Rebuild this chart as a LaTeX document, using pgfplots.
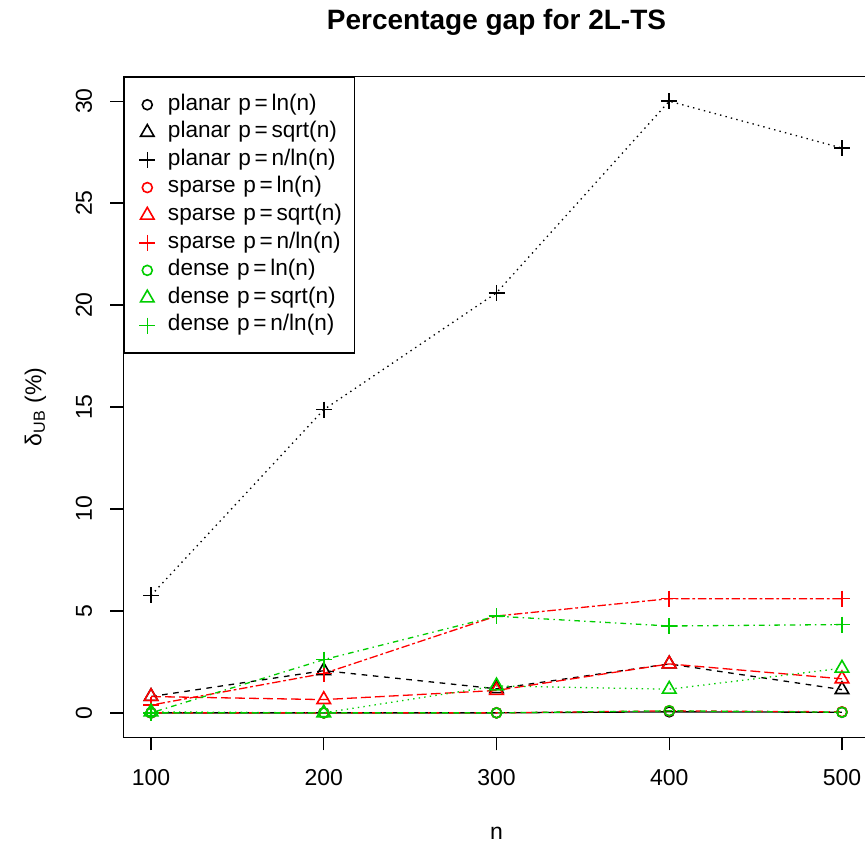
\documentclass[border=0pt]{standalone}
\usepackage{fontspec}
\setmainfont{Liberation Sans}
\usepackage{pgfplots}
\pgfplotsset{compat=1.18}
\definecolor{rgreen}{RGB}{0,205,0}
\definecolor{rred}{RGB}{255,0,0}
\tikzset{
  ltydashed/.style={dash pattern=on 2.8pt off 2.8pt},
  ltydotted/.style={dash pattern=on 0.7pt off 2.1pt},
  ltydotdash/.style={dash pattern=on 0.7pt off 2.1pt on 2.8pt off 2.1pt},
  ltylongdash/.style={dash pattern=on 4.9pt off 2.1pt},
  ltytwodash/.style={dash pattern=on 1.4pt off 1.4pt on 4.2pt off 1.4pt},
}
\newcommand{\eq}{\,=\,}
\begin{document}
\begin{tikzpicture}
\begin{axis}[
  at={(61.7pt,-368.65pt)}, anchor=south west,
  scale only axis, width=373.1pt, height=330.3pt,
  xmin=84, xmax=516, ymin=-1.2, ymax=31.2,
  axis line style={line width=0.65pt},
  xtick={100,200,300,400,500}, ytick={0,5,10,15,20,25,30},
  xtick pos=bottom, ytick pos=left,
  tick align=outside, major tick length=6.5pt,
  tick style={black, line width=0.65pt},
  /pgf/number format/assume math mode=true,
  /pgf/number format/1000 sep={},
  tick label style={font=\fontsize{11.5}{13}\selectfont},
  xticklabel style={anchor=north, inner sep=0pt},
  yticklabel style={rotate=90, anchor=south, inner sep=0pt},
  xticklabel shift=9.5pt, yticklabel shift=9pt,
  every axis title shift=0pt,
  title={\textbf{Percentage gap for 2L-TS}},
  title style={at={(axis description cs:0.5,1.083)}, anchor=center, font=\fontsize{14}{16}\selectfont, inner sep=0pt},
  xlabel={n},
  xlabel style={at={(axis description cs:0.5,-0.145)}, anchor=center, font=\fontsize{11.5}{13}\selectfont, inner sep=0pt},
  ylabel={δ\textsubscript{UB} (\%)},
  ylabel style={at={(axis description cs:-0.118,0.5)}, anchor=center, font=\fontsize{11.5}{13}\selectfont, inner sep=0pt},
  legend style={at={(axis description cs:0,1)}, anchor=north west,
    draw=black, line width=0.65pt, inner xsep=0pt, inner ysep=6.8pt,
    column sep=0pt, row sep=0pt,
    font=\fontsize{11.3}{13}\selectfont,
    nodes={inner sep=0pt, text height=9.6pt, text depth=4.2pt, text width=93.2pt}},
  legend cell align=left,
  legend image code/.code={\path (-11.3pt,0pt) (10pt,0pt);\draw[#1, solid] plot[only marks] coordinates {(0pt,0pt)};},
  every axis plot/.append style={line width=0.65pt, mark options={solid, line width=0.8pt}},
]
% planar
\addplot[black, solid, mark=o, mark size=2.5pt] coordinates {(100,0) (200,0) (300,0) (400,0.05) (500,0.03)};
\addlegendentry{planar p\eq ln(n)}
\addplot[black, ltydashed, mark=triangle, mark size=3.9pt] coordinates {(100,0.8) (200,2.07) (300,1.18) (400,2.4) (500,1.14)};
\addlegendentry{planar p\eq sqrt(n)}
\addplot[black, ltydotted, mark=+, mark size=4pt] coordinates {(100,5.76) (200,14.87) (300,20.6) (400,30.0) (500,27.7)};
\addlegendentry{planar p\eq n/ln(n)}
% sparse
\addplot[rred, ltydotdash, mark=o, mark size=2.5pt] coordinates {(100,0) (200,0) (300,0) (400,0.1) (500,0.05)};
\addlegendentry{sparse p\eq ln(n)}
\addplot[rred, ltylongdash, mark=triangle, mark size=3.9pt] coordinates {(100,0.8) (200,0.65) (300,1.1) (400,2.4) (500,1.67)};
\addlegendentry{sparse p\eq sqrt(n)}
\addplot[rred, ltytwodash, mark=+, mark size=4pt] coordinates {(100,0.38) (200,1.93) (300,4.75) (400,5.6) (500,5.6)};
\addlegendentry{sparse p\eq n/ln(n)}
% dense
\addplot[rgreen, ltydashed, mark=o, mark size=2.5pt] coordinates {(100,0) (200,0) (300,0) (400,0.1) (500,0.03)};
\addlegendentry{dense p\eq ln(n)}
\addplot[rgreen, ltydotted, mark=triangle, mark size=3.9pt] coordinates {(100,0.05) (200,0.0) (300,1.32) (400,1.16) (500,2.19)};
\addlegendentry{dense p\eq sqrt(n)}
\addplot[rgreen, ltydotdash, mark=+, mark size=4pt] coordinates {(100,0) (200,2.61) (300,4.74) (400,4.26) (500,4.33)};
\addlegendentry{dense p\eq n/ln(n)}
\end{axis}
\pgfresetboundingbox
\useasboundingbox (0pt,0pt) rectangle (432.5pt,-426pt);
\end{tikzpicture}
\end{document}
